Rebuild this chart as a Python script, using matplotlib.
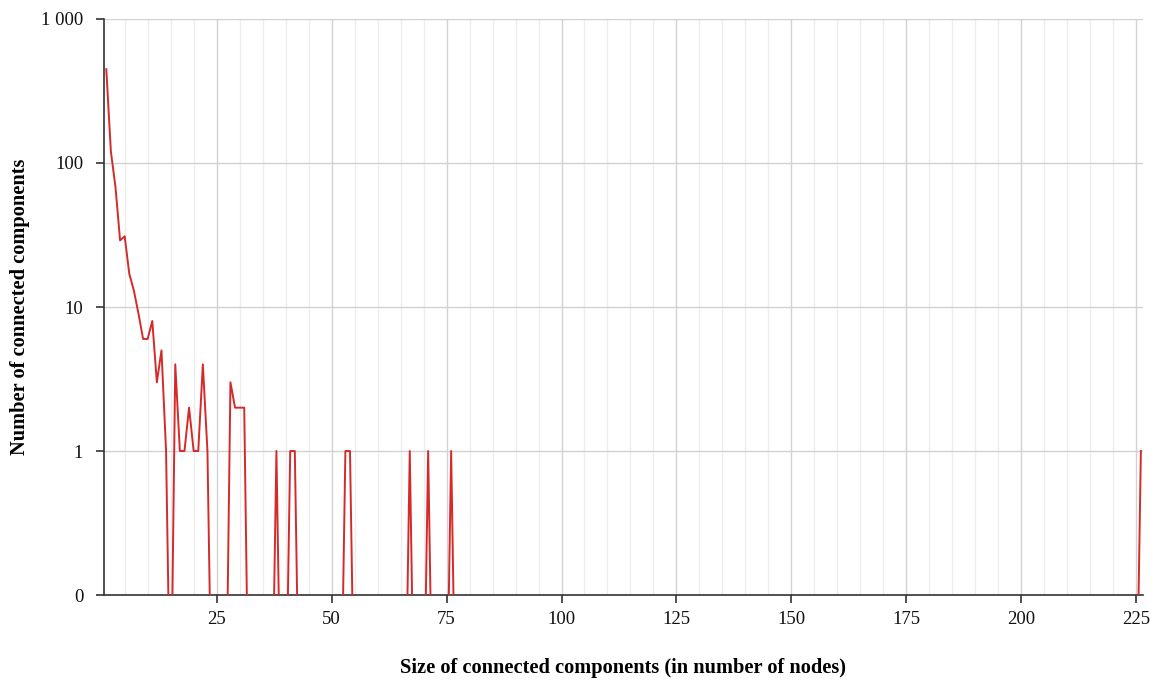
import matplotlib.pyplot as plt
import numpy as np
from matplotlib.ticker import FixedLocator, MultipleLocator, NullLocator

# size of component -> number of components (sizes not listed have 0)
sizes_nonzero = [1, 2, 3, 4, 5, 6, 7, 8, 9, 10, 11, 12, 13, 14, 16, 17, 18, 19,
                 20, 21, 22, 23, 28, 29, 30, 31, 38, 41, 42, 53, 54, 67, 71, 76, 226]
counts_nonzero = [448, 120, 68, 29, 31, 17, 13, 9, 6, 6, 8, 3, 5, 1, 4, 1, 1, 2,
                  1, 1, 4, 1, 3, 2, 2, 2, 1, 1, 1, 1, 1, 1, 1, 1, 1]

y_ticks = [0.1, 1, 10, 100, 1000]
y_tick_labels = ['0', '1', '10', '100', '1 000']
x_ticks = [25, 50, 75, 100, 125, 150, 175, 200, 225]

ZERO_FLOOR = 0.01  # where zero counts sit on the log axis (clipped below "0")


def main():
    plt.rcParams['font.family'] = ['Liberation Serif', 'DejaVu Serif']

    max_size = max(sizes_nonzero)
    sizes = np.arange(1, max_size + 1)
    counts = np.zeros(len(sizes))
    counts[np.array(sizes_nonzero) - 1] = counts_nonzero
    y = np.where(counts > 0, counts, ZERO_FLOOR)

    fig = plt.figure(figsize=(11.58, 6.83), dpi=100)
    ax = fig.add_axes([0.0898, 0.1288, 0.8970, 0.8434])

    ax.plot(sizes, y, color='#d42a2a', linewidth=1.4, zorder=3)

    ax.set_yscale('log')
    ax.set_ylim(0.1, 1000)
    ax.set_xlim(0.5, 226.4)

    ax.yaxis.set_major_locator(FixedLocator(y_ticks))
    ax.set_yticklabels(y_tick_labels)
    ax.yaxis.set_minor_locator(NullLocator())
    ax.xaxis.set_major_locator(FixedLocator(x_ticks))
    ax.xaxis.set_minor_locator(MultipleLocator(5))

    ax.grid(which='major', color='#d2d2d2', linewidth=1.0, zorder=0)
    ax.grid(which='minor', axis='x', color='#ededed', linewidth=1.0, zorder=0)

    for side in ['top', 'right']:
        ax.spines[side].set_visible(False)
    for side in ['left', 'bottom']:
        ax.spines[side].set_color('#333333')
        ax.spines[side].set_linewidth(1.2)

    ax.tick_params(which='major', length=6, width=1.2, color='#333333',
                   labelsize=13.5, labelcolor='#111111')
    ax.tick_params(axis='y', pad=9)
    ax.tick_params(axis='x', pad=5.5)
    ax.tick_params(which='minor', length=0)

    ax.set_xlabel('Size of connected components (in number of nodes)',
                  fontsize=14.7, fontweight='bold', va='center')
    ax.set_ylabel('Number of connected components',
                  fontsize=14.7, fontweight='bold', va='center')
    ax.xaxis.set_label_coords(0.5, -0.1267)
    ax.yaxis.set_label_coords(-0.0808, 0.5)

    plt.savefig('out.png', dpi=100)


if __name__ == '__main__':
    main()
